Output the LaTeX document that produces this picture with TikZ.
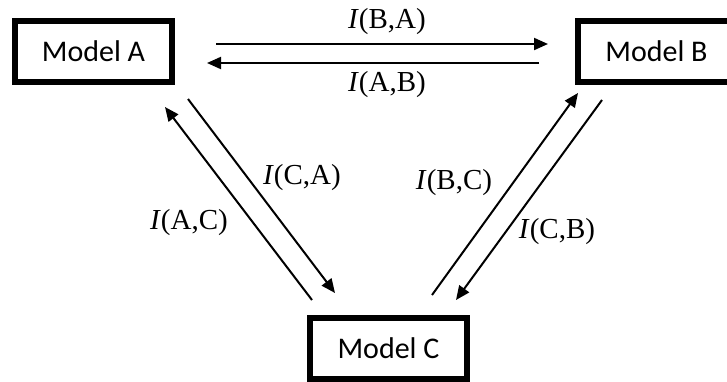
\documentclass[tikz,border=0pt]{standalone}
\usepackage{fontspec}
\setmainfont{Liberation Serif}
\newfontfamily\boxfont{Carlito}
\usetikzlibrary{arrows.meta}
\begin{document}
\begin{tikzpicture}[x=1pt,y=-1pt,
  model/.style={draw, line width=6pt, minimum width=157pt, minimum height=61pt,
    inner sep=0pt, font=\boxfont\fontsize{30}{34}\selectfont},
  flow/.style={line width=2pt, -{Triangle[length=14pt,width=12pt]}},
  lbl/.style={inner sep=0pt, font=\fontsize{29}{33}\selectfont}]
\useasboundingbox (0,0) rectangle (727,381);

% models
\node[model] (A) at (93.5,51.5) {Model A};
\node[model] (B) at (656.5,51.5) {Model B};
\node[model] (C) at (388.5,348.5) {Model C};

% arrow end points
\coordinate (ba1) at (216,44);  \coordinate (ba2) at (548,44);
\coordinate (ab1) at (539,63);  \coordinate (ab2) at (207,63);
\coordinate (ac1) at (312,300); \coordinate (ac2) at (165,107);
\coordinate (ca1) at (188,99);  \coordinate (ca2) at (335,293);
\coordinate (bc1) at (432,295); \coordinate (bc2) at (578,93);
\coordinate (cb1) at (602,100); \coordinate (cb2) at (456,300);

% information flows
\draw[flow] (ba1) -- (ba2);
\draw[flow] (ab1) -- (ab2);
\draw[flow] (ac1) -- (ac2);
\draw[flow] (ca1) -- (ca2);
\draw[flow] (bc1) -- (bc2);
\draw[flow] (cb1) -- (cb2);

% labels
\node[lbl] (lBA) at (387,22)  {\textit{I}(B,A)};
\node[lbl] (lAB) at (387,85)  {\textit{I}(A,B)};
\node[lbl] (lCA) at (302,178) {\textit{I}(C,A)};
\node[lbl] (lAC) at (189,223) {\textit{I}(A,C)};
\node[lbl] (lBC) at (454,183) {\textit{I}(B,C)};
\node[lbl] (lCB) at (557,232) {\textit{I}(C,B)};
\end{tikzpicture}
\end{document}
